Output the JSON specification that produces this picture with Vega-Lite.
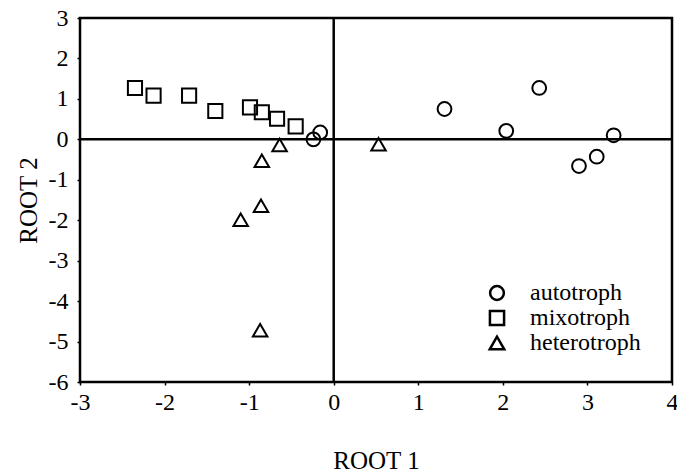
{
  "$schema": "https://vega.github.io/schema/vega-lite/v6.json",
  "width": 592,
  "height": 364,
  "autosize": {"type": "none"},
  "padding": {"left": 80, "top": 18, "right": 5, "bottom": 91},
  "background": "white",
  "config": {
    "font": "Liberation Serif",
    "view": {"stroke": "black", "strokeWidth": 2.5},
    "axis": {
      "grid": false, "domain": false, "tickColor": "black", "tickSize": 3, "tickWidth": 1.5,
      "labelFont": "Liberation Serif", "labelFontSize": 24, "labelColor": "black", "labelFlush": false,
      "titleFont": "Liberation Serif", "titleFontSize": 25, "titleFontWeight": "normal", "titleColor": "black"
    }
  },
  "datasets": {
    "pts": [
      {"root1": -2.35, "root2": 1.27, "type": "mixotroph"},
      {"root1": -2.13, "root2": 1.08, "type": "mixotroph"},
      {"root1": -1.71, "root2": 1.08, "type": "mixotroph"},
      {"root1": -1.40, "root2": 0.70, "type": "mixotroph"},
      {"root1": -0.99, "root2": 0.79, "type": "mixotroph"},
      {"root1": -0.85, "root2": 0.67, "type": "mixotroph"},
      {"root1": -0.67, "root2": 0.51, "type": "mixotroph"},
      {"root1": -0.45, "root2": 0.32, "type": "mixotroph"},
      {"root1": -0.24, "root2": 0.00, "type": "autotroph"},
      {"root1": -0.16, "root2": 0.17, "type": "autotroph"},
      {"root1": 1.31, "root2": 0.75, "type": "autotroph"},
      {"root1": 2.43, "root2": 1.27, "type": "autotroph"},
      {"root1": 2.04, "root2": 0.21, "type": "autotroph"},
      {"root1": 3.31, "root2": 0.10, "type": "autotroph"},
      {"root1": 3.11, "root2": -0.43, "type": "autotroph"},
      {"root1": 2.90, "root2": -0.66, "type": "autotroph"},
      {"root1": 0.53, "root2": -0.12, "type": "heterotroph"},
      {"root1": -0.64, "root2": -0.14, "type": "heterotroph"},
      {"root1": -0.85, "root2": -0.53, "type": "heterotroph"},
      {"root1": -0.86, "root2": -1.64, "type": "heterotroph"},
      {"root1": -1.10, "root2": -1.99, "type": "heterotroph"},
      {"root1": -0.87, "root2": -4.72, "type": "heterotroph"}
    ],
    "vlines": [{"x": 0}],
    "hlines": [{"y": 0}]
  },
  "layer": [
    {
      "data": {"name": "vlines"},
      "mark": {"type": "rule", "color": "black", "strokeWidth": 2.5},
      "encoding": {
        "x": {
          "field": "x", "type": "quantitative",
          "scale": {"domain": [-3, 4], "nice": false, "zero": false},
          "axis": {"values": [-3, -2, -1, 0, 1, 2, 3, 4], "labelExpr": "replace(format(datum.value, 'd'), '−', '-')", "title": "ROOT 1", "labelPadding": 5, "titlePadding": 34}
        }
      }
    },
    {
      "data": {"name": "hlines"},
      "mark": {"type": "rule", "color": "black", "strokeWidth": 2.5},
      "encoding": {
        "y": {
          "field": "y", "type": "quantitative",
          "scale": {"domain": [-6, 3], "nice": false, "zero": false},
          "axis": {"values": [-6, -5, -4, -3, -2, -1, 0, 1, 2, 3], "labelExpr": "replace(format(datum.value, 'd'), '−', '-')", "title": "ROOT 2", "labelPadding": 9, "titlePadding": 7}
        }
      }
    },
    {
      "data": {"name": "pts"},
      "mark": {"type": "point", "filled": false, "strokeWidth": 2, "opacity": 1},
      "encoding": {
        "x": {
          "field": "root1", "type": "quantitative",
          "scale": {"domain": [-3, 4], "nice": false, "zero": false},
          "axis": {"values": [-3, -2, -1, 0, 1, 2, 3, 4], "labelExpr": "replace(format(datum.value, 'd'), '−', '-')", "title": "ROOT 1", "labelPadding": 5, "titlePadding": 34}
        },
        "y": {
          "field": "root2", "type": "quantitative",
          "scale": {"domain": [-6, 3], "nice": false, "zero": false},
          "axis": {"values": [-6, -5, -4, -3, -2, -1, 0, 1, 2, 3], "labelExpr": "replace(format(datum.value, 'd'), '−', '-')", "title": "ROOT 2", "labelPadding": 9, "titlePadding": 7}
        },
        "shape": {
          "field": "type", "type": "nominal",
          "scale": {"domain": ["autotroph", "mixotroph", "heterotroph"], "range": ["circle", "square", "triangle-up"]},
          "legend": {
            "title": null, "orient": "none", "legendX": 405, "legendY": 263,
            "labelFont": "Liberation Serif", "labelFontSize": 24, "labelColor": "black",
            "symbolStrokeColor": "black", "symbolStrokeWidth": 2.5, "symbolFillColor": "transparent",
            "labelOffset": 21, "rowPadding": 0
          }
        },
        "size": {
          "field": "type", "type": "nominal",
          "scale": {"domain": ["autotroph", "mixotroph", "heterotroph"], "range": [190, 210, 110]}
        },
        "color": {"value": "black"}
      }
    }
  ]
}
